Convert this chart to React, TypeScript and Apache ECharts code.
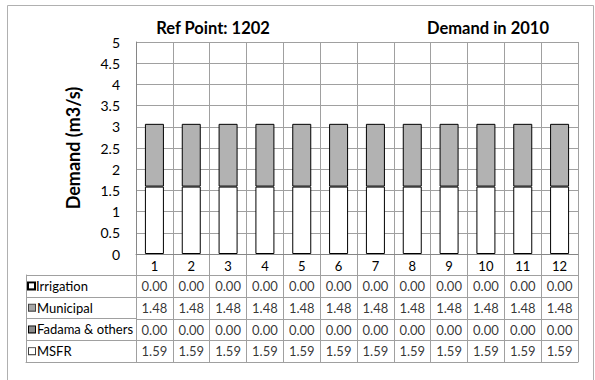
import React, { useEffect, useRef } from "react";
import * as echarts from "echarts";

const months = ["1", "2", "3", "4", "5", "6", "7", "8", "9", "10", "11", "12"];
const irrigation = [0, 0, 0, 0, 0, 0, 0, 0, 0, 0, 0, 0];
const municipal = [1.48, 1.48, 1.48, 1.48, 1.48, 1.48, 1.48, 1.48, 1.48, 1.48, 1.48, 1.48];
const fadama = [0, 0, 0, 0, 0, 0, 0, 0, 0, 0, 0, 0];
const msfr = [1.59, 1.59, 1.59, 1.59, 1.59, 1.59, 1.59, 1.59, 1.59, 1.59, 1.59, 1.59];
const rowNames = ["Irrigation", "Municipal", "Fadama & others", "MSFR"];
const rowKeys = ["irr", "mun", "fad", "msfr"];
const rowValues = [irrigation, municipal, fadama, msfr];
const yMin = 0;
const yMax = 5;
const yStep = 0.5;
const titleLeft = "Ref Point: 1202";
const titleRight = "Demand in 2010";
const yName = "Demand (m3/s)";

const FONT = "Lato, 'Open Sans', sans-serif";
const GRID = "#a0a0a0";

export default function App() {
  const ref = useRef<HTMLDivElement>(null);
  useEffect(() => {
    if (!ref.current) return;
    const chart = echarts.init(ref.current, null, { renderer: "svg" });
    const tableData: any[] = [];
    rowValues.forEach((arr, r) => {
      arr.forEach((v, i) => tableData.push([i, r + 1, v]));
    });
    const barStyle = (color: string, bw: number) => ({
      color,
      borderColor: "#000",
      borderWidth: bw,
    });
    chart.setOption({
      animation: false,
      backgroundColor: "#fff",
      textStyle: { fontFamily: FONT },
      grid: [
        { left: 136, right: 17, top: 42, bottom: 126, containLabel: false },
        { left: 136, right: 17, top: 254, bottom: 18, containLabel: false },
        { left: 26, right: 459, top: 275, bottom: 18, containLabel: false },
      ],
      xAxis: [
        {
          type: "category",
          gridIndex: 0,
          data: months,
          axisLine: { show: true, lineStyle: { color: "#868686", width: 1 } },
          axisTick: { show: false },
          axisLabel: { color: "#000", fontSize: 13, margin: 5, fontFamily: FONT, interval: 0 },
          splitLine: { show: true, interval: 0, lineStyle: { color: GRID, width: 1 } },
        },
        {
          type: "category",
          gridIndex: 1,
          data: months,
          axisLine: { show: true, lineStyle: { color: GRID } },
          axisTick: { show: false },
          axisLabel: { show: false },
          splitLine: { show: true, interval: 0, lineStyle: { color: GRID, width: 1 } },
        },
        {
          type: "category",
          gridIndex: 2,
          data: [""],
          axisLine: { show: true, lineStyle: { color: GRID } },
          axisTick: { show: false },
          axisLabel: { show: false },
          splitLine: { show: true, interval: 0, lineStyle: { color: GRID, width: 1 } },
        },
      ],
      yAxis: [
        {
          type: "value",
          gridIndex: 0,
          min: yMin,
          max: yMax,
          interval: yStep,
          name: yName,
          nameLocation: "middle",
          nameGap: 54,
          nameRotate: 90,
          nameTextStyle: { fontSize: 18, fontWeight: "bold", color: "#000", fontFamily: FONT },
          axisLine: { show: true, lineStyle: { color: "#868686", width: 1 } },
          axisTick: { show: false },
          axisLabel: { color: "#000", fontSize: 14, margin: 16, fontFamily: FONT },
          splitLine: { show: true, lineStyle: { color: GRID, width: 1 } },
        },
        {
          type: "category",
          gridIndex: 1,
          data: ["", ...rowNames],
          inverse: true,
          axisLine: { show: true, lineStyle: { color: GRID } },
          axisTick: { show: false },
          axisLabel: { show: false },
          splitLine: { show: true, interval: 0, lineStyle: { color: GRID, width: 1 } },
        },
        {
          type: "category",
          gridIndex: 2,
          data: rowNames,
          inverse: true,
          axisLine: { show: true, lineStyle: { color: GRID } },
          axisTick: { show: false },
          splitLine: { show: true, interval: 0, lineStyle: { color: GRID, width: 1 } },
          axisLabel: {
            inside: true,
            margin: 3,
            interval: 0,
            align: "left",
            formatter: (v: string) => {
              const k = rowKeys[rowNames.indexOf(v)];
              return `{${k}|}{t|${v}}`;
            },
            rich: {
              irr: { width: 5, height: 5, backgroundColor: "#fff", borderColor: "#000", borderWidth: 2 },
              mun: { width: 6, height: 6, backgroundColor: "#a6a6a6", borderColor: "#404040", borderWidth: 1 },
              fad: { width: 6, height: 6, backgroundColor: "#8c8c8c", borderColor: "#000", borderWidth: 1 },
              msfr: { width: 6, height: 6, backgroundColor: "#fff", borderColor: "#404040", borderWidth: 1 },
              t: { fontSize: 13, color: "#000", fontFamily: FONT, padding: [0, 0, 0, 2] },
            },
          },
        },
      ],
      series: [
        { name: "MSFR", type: "bar", stack: "d", barWidth: 19, data: msfr, itemStyle: barStyle("#ffffff", 1) },
        { name: "Fadama & others", type: "bar", stack: "d", barWidth: 19, data: fadama, itemStyle: barStyle("#8c8c8c", 0) },
        { name: "Municipal", type: "bar", stack: "d", barWidth: 19, data: municipal, itemStyle: barStyle("#b2b2b2", 1) },
        { name: "Irrigation", type: "bar", stack: "d", barWidth: 19, data: irrigation, itemStyle: barStyle("#ffffff", 0) },
        {
          name: "table",
          type: "scatter",
          xAxisIndex: 1,
          yAxisIndex: 1,
          symbolSize: 1,
          itemStyle: { color: "rgba(0,0,0,0)" },
          data: tableData,
          label: {
            show: true,
            position: "inside",
            color: "#000",
            fontSize: 13,
            fontFamily: FONT,
            formatter: (p: any) => Number(p.value[2]).toFixed(2),
          },
          labelLayout: { hideOverlap: false },
          silent: true,
        },
      ],
      graphic: [
        {
          type: "rect",
          shape: { x: 7.5, y: 5.5, width: 586, height: 420 },
          style: { fill: "none", stroke: "#b0b0b0", lineWidth: 1 },
          silent: true,
        },
        {
          type: "text",
          x: 213,
          y: 28,
          style: { text: titleLeft, fontSize: 16.5, fontWeight: "bold", fill: "#000", fontFamily: FONT, textAlign: "center", textVerticalAlign: "middle" },
        },
        {
          type: "text",
          x: 488,
          y: 28,
          style: { text: titleRight, fontSize: 16.5, fontWeight: "bold", fill: "#000", fontFamily: FONT, textAlign: "center", textVerticalAlign: "middle" },
        },
      ],
    });
    return () => chart.dispose();
  }, []);
  return (
    <div
      ref={ref}
      style={{ position: "fixed", left: 0, top: 0, width: 595, height: 380, background: "#fff" }}
    />
  );
}
